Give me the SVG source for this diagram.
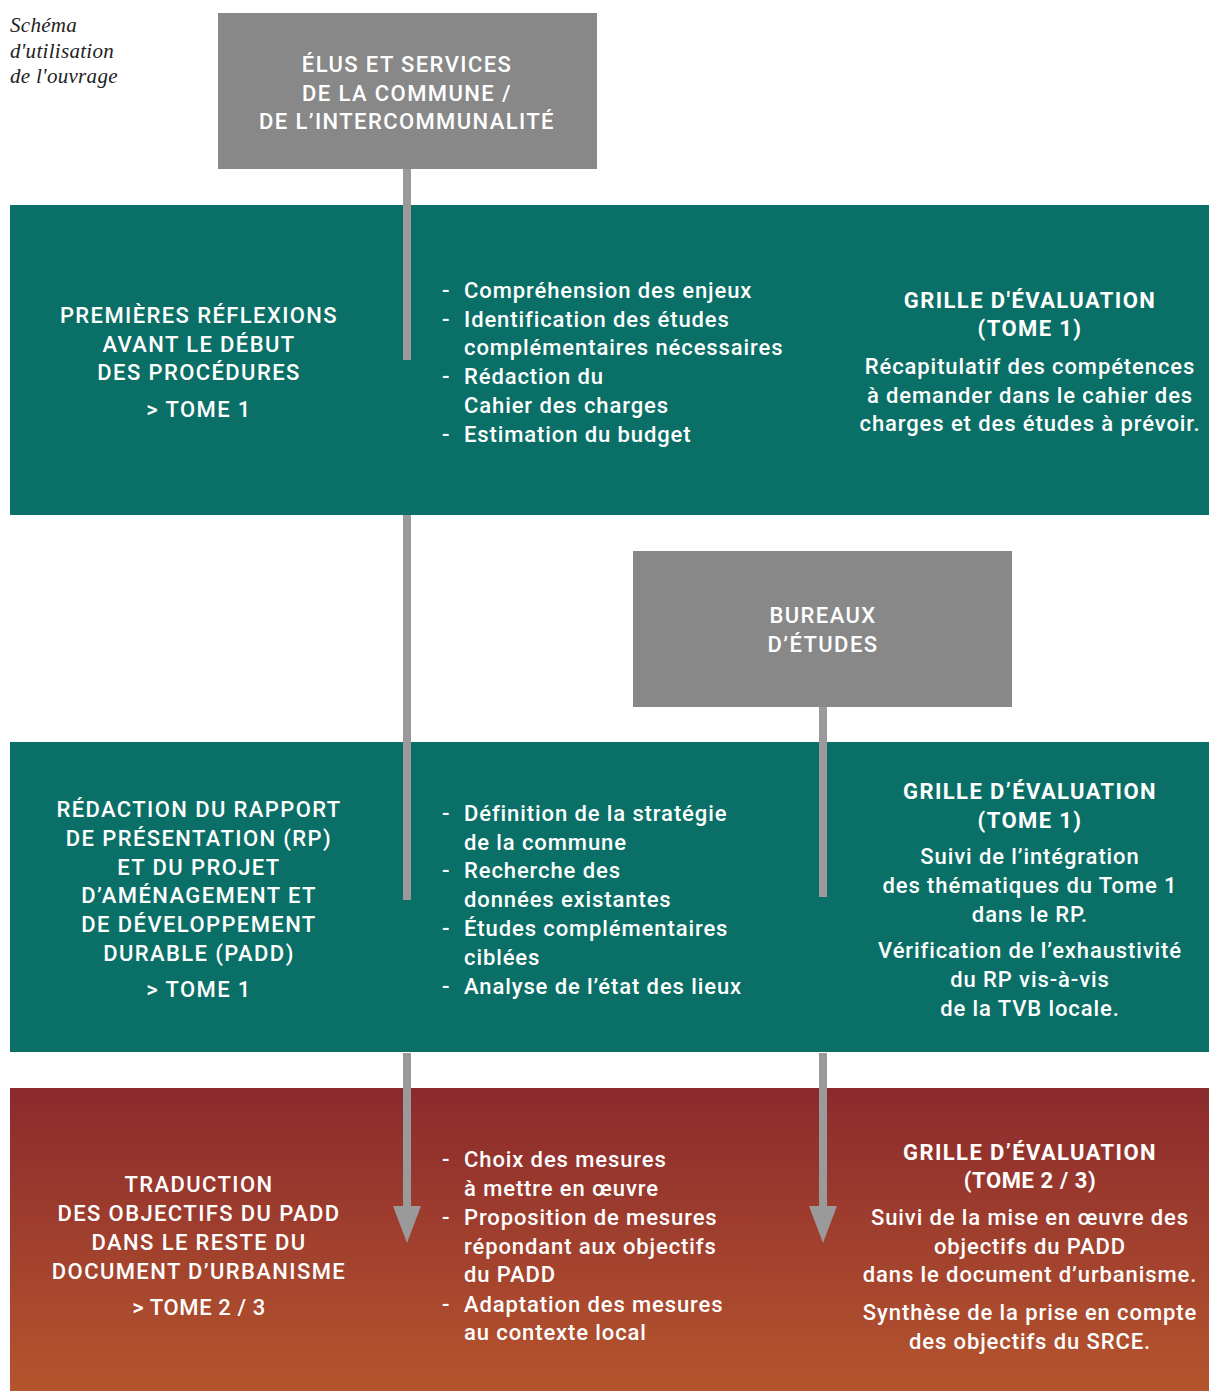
<svg xmlns="http://www.w3.org/2000/svg" width="1209" height="1391" viewBox="0 0 1209 1391">
<defs>
<linearGradient id="redgrad" x1="0" y1="0" x2="0" y2="1">
<stop offset="0" stop-color="#8b2a2d"/>
<stop offset="1" stop-color="#b5552e"/>
</linearGradient>
<marker id="arrow" markerUnits="userSpaceOnUse" markerWidth="37" markerHeight="28" refX="1" refY="14" orient="auto" viewBox="0 0 37 28">
<path d="M0,0 L37,14 L0,28 Z" fill="#9a9a9a"/>
</marker>
</defs>
<style>
.teal{fill:#0a6f66}
.gray{fill:#888888}
.t{font-family:Roboto,"Open Sans",sans-serif;font-size:22px;font-weight:500;fill:#ffffff;letter-spacing:0.9px}
.u{letter-spacing:1.4px}
.s{letter-spacing:0.6px}
.c{text-anchor:middle}
.b{font-weight:bold}
.conn{stroke:#9a9a9a;stroke-width:8;fill:none}
.cap{font-family:"Liberation Serif",serif;font-style:italic;font-size:21px;fill:#222;letter-spacing:0.3px}
</style>
<rect width="1209" height="1391" fill="#ffffff"/>
<g id="caption">
<text class="cap" x="10" y="32">Schéma</text>
<text class="cap" x="10" y="58">d'utilisation</text>
<text class="cap" x="10" y="83">de l'ouvrage</text>
</g>
<g id="band1">
<rect class="teal" x="10" y="205" width="1199" height="310"/>
</g>
<g id="band2">
<rect class="teal" x="10" y="742" width="1199" height="310"/>
</g>
<g id="band3">
<rect x="10" y="1088" width="1199" height="303" fill="url(#redgrad)"/>
</g>
<g id="connectors">
<line class="conn" x1="407" y1="169" x2="407" y2="360"/>
<line class="conn" x1="407" y1="515" x2="407" y2="900"/>
<line class="conn" x1="407" y1="1053" x2="407" y2="1207" marker-end="url(#arrow)"/>
<line class="conn" x1="823" y1="707" x2="823" y2="897"/>
<line class="conn" x1="823" y1="1053" x2="823" y2="1207" marker-end="url(#arrow)"/>
</g>
<g id="elus">
<rect class="gray" x="218" y="13" width="379" height="156"/>
<text class="t c u" x="407" y="72">ÉLUS ET SERVICES</text>
<text class="t c u" x="407" y="101">DE LA COMMUNE /</text>
<text class="t c u" x="407" y="129">DE L’INTERCOMMUNALITÉ</text>
</g>
<g id="bureaux">
<rect class="gray" x="633" y="551" width="379" height="156"/>
<text class="t c u" x="823" y="623">BUREAUX</text>
<text class="t c u" x="823" y="652">D’ÉTUDES</text>
</g>
<g id="reflexions">
<text class="t c u" x="199" y="323">PREMIÈRES RÉFLEXIONS</text>
<text class="t c u" x="199" y="352">AVANT LE DÉBUT</text>
<text class="t c u" x="199" y="380">DES PROCÉDURES</text>
<text class="t c u" x="199" y="417">&gt; TOME 1</text>
</g>
<g id="list1">
<text class="t" x="442" y="298">-</text><text class="t" x="464" y="298">Compréhension des enjeux</text>
<text class="t" x="442" y="327">-</text><text class="t" x="464" y="327">Identification des études</text>
<text class="t" x="464" y="355">complémentaires nécessaires</text>
<text class="t" x="442" y="384">-</text><text class="t" x="464" y="384">Rédaction du</text>
<text class="t" x="464" y="413">Cahier des charges</text>
<text class="t" x="442" y="442">-</text><text class="t" x="464" y="442">Estimation du budget</text>
</g>
<g id="grille1">
<text class="t c b u" x="1030" y="308">GRILLE D'ÉVALUATION</text>
<text class="t c b u" x="1030" y="336">(TOME 1)</text>
<text class="t c" x="1030" y="374">Récapitulatif des compétences</text>
<text class="t c" x="1030" y="403">à demander dans le cahier des</text>
<text class="t c" x="1030" y="431">charges et des études à prévoir.</text>
</g>
<g id="redaction">
<text class="t c u" x="199" y="817">RÉDACTION DU RAPPORT</text>
<text class="t c u" x="199" y="846">DE PRÉSENTATION (RP)</text>
<text class="t c u" x="199" y="875">ET DU PROJET</text>
<text class="t c u" x="199" y="903">D’AMÉNAGEMENT ET</text>
<text class="t c u" x="199" y="932">DE DÉVELOPPEMENT</text>
<text class="t c u" x="199" y="961">DURABLE (PADD)</text>
<text class="t c u" x="199" y="997">&gt; TOME 1</text>
</g>
<g id="list2">
<text class="t" x="442" y="821">-</text><text class="t" x="464" y="821">Définition de la stratégie</text>
<text class="t" x="464" y="850">de la commune</text>
<text class="t" x="442" y="878">-</text><text class="t" x="464" y="878">Recherche des</text>
<text class="t" x="464" y="907">données existantes</text>
<text class="t" x="442" y="936">-</text><text class="t" x="464" y="936">Études complémentaires</text>
<text class="t" x="464" y="965">ciblées</text>
<text class="t" x="442" y="994">-</text><text class="t" x="464" y="994">Analyse de l’état des lieux</text>
</g>
<g id="grille2">
<text class="t c b u" x="1030" y="799">GRILLE D’ÉVALUATION</text>
<text class="t c b u" x="1030" y="828">(TOME 1)</text>
<text class="t c" x="1030" y="864">Suivi de l’intégration</text>
<text class="t c" x="1030" y="893">des thématiques du Tome 1</text>
<text class="t c" x="1030" y="922">dans le RP.</text>
<text class="t c" x="1030" y="958">Vérification de l’exhaustivité</text>
<text class="t c" x="1030" y="987">du RP vis-à-vis</text>
<text class="t c" x="1030" y="1016">de la TVB locale.</text>
</g>
<g id="traduction">
<text class="t c u" x="199" y="1192">TRADUCTION</text>
<text class="t c u" x="199" y="1221">DES OBJECTIFS DU PADD</text>
<text class="t c u" x="199" y="1250">DANS LE RESTE DU</text>
<text class="t c u" x="199" y="1279">DOCUMENT D’URBANISME</text>
<text class="t c s" x="199" y="1315">&gt; TOME 2 / 3</text>
</g>
<g id="list3">
<text class="t" x="442" y="1167">-</text><text class="t" x="464" y="1167">Choix des mesures</text>
<text class="t" x="464" y="1196">à mettre en œuvre</text>
<text class="t" x="442" y="1225">-</text><text class="t" x="464" y="1225">Proposition de mesures</text>
<text class="t" x="464" y="1254">répondant aux objectifs</text>
<text class="t" x="464" y="1282">du PADD</text>
<text class="t" x="442" y="1312">-</text><text class="t" x="464" y="1312">Adaptation des mesures</text>
<text class="t" x="464" y="1340">au contexte local</text>
</g>
<g id="grille3">
<text class="t c b u" x="1030" y="1160">GRILLE D’ÉVALUATION</text>
<text class="t c b s" x="1030" y="1188">(TOME 2 / 3)</text>
<text class="t c" x="1030" y="1225">Suivi de la mise en œuvre des</text>
<text class="t c" x="1030" y="1254">objectifs du PADD</text>
<text class="t c" x="1030" y="1282">dans le document d’urbanisme.</text>
<text class="t c" x="1030" y="1320">Synthèse de la prise en compte</text>
<text class="t c" x="1030" y="1349">des objectifs du SRCE.</text>
</g>
</svg>
